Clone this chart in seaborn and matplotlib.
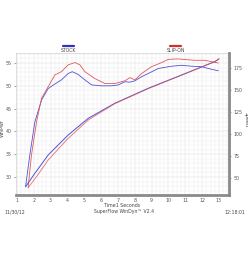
import pandas as pd
import seaborn as sns
import matplotlib.pyplot as plt
from matplotlib.lines import Line2D
from matplotlib.ticker import MultipleLocator

# Dyno run values
stock_t = [1.52, 1.77, 2.07, 2.47, 2.86, 3.26, 3.65, 4.05, 4.29, 4.64, 5.04, 5.44, 6.03, 6.63,
           7.02, 7.42, 7.71, 8.01, 8.41, 8.80, 9.40, 10.19, 10.79, 11.38, 11.97, 12.37, 12.96]
stock_hp = [27.9, 34.8, 42.1, 46.9, 49.4, 50.4, 51.3, 52.7, 53.1, 52.5, 51.3, 50.2, 50.0, 50.0,
            50.2, 50.9, 50.8, 51.1, 52.0, 52.7, 53.8, 54.3, 54.5, 54.3, 54.2, 53.8, 53.3]
slip_t = [1.67, 1.87, 2.17, 2.47, 2.86, 3.26, 3.65, 4.05, 4.45, 4.74, 5.04, 5.63, 6.23, 6.82,
          7.42, 7.71, 8.01, 8.41, 9.00, 9.60, 9.99, 10.58, 11.18, 11.58, 12.17, 12.96]
slip_hp = [27.7, 34.8, 42.1, 47.3, 49.8, 52.4, 53.1, 54.6, 55.1, 54.6, 53.1, 51.6, 50.5, 50.5,
           51.1, 51.8, 51.3, 52.7, 54.2, 55.1, 55.8, 55.9, 55.7, 55.6, 55.6, 55.0]

stock_spd_t = [1.52, 2.07, 2.86, 4.05, 5.24, 6.82, 8.80, 10.79, 12.77, 13.0]
stock_spd = [40.1, 55.3, 76.1, 98.9, 117.8, 134.9, 151.9, 167.0, 182.2, 185.2]
slip_spd_t = [1.67, 2.17, 2.86, 4.05, 5.24, 6.82, 8.80, 10.79, 12.77, 13.0]
slip_spd = [39.0, 51.5, 70.5, 95.1, 115.9, 134.5, 151.5, 167.0, 182.5, 185.5]

x_ticks = list(range(1, 14))
hp_ticks = [30, 35, 40, 45, 50, 55]
spd_ticks = [50, 75, 100, 125, 150, 175]

blue = '#5050d8'
red = '#e05858'
edge = '#8a8a8a'
txt = '#444444'

sns.set_style('white')
plt.rcParams['font.family'] = ['DejaVu Sans']

fig = plt.figure(figsize=(2.48, 2.58), dpi=100)
ax = fig.add_axes([0.0645, 0.2442, 0.859, 0.5504])
ax2 = ax.twinx()

df_stock = pd.DataFrame({'t': stock_t, 'hp': stock_hp})
df_slip = pd.DataFrame({'t': slip_t, 'hp': slip_hp})
sns.lineplot(x='t', y='hp', data=df_stock, ax=ax, color=blue, lw=0.6, sort=False)
sns.lineplot(x='t', y='hp', data=df_slip, ax=ax, color=red, lw=0.6, sort=False)

df_s1 = pd.DataFrame({'t': stock_spd_t, 'spd': stock_spd})
df_s2 = pd.DataFrame({'t': slip_spd_t, 'spd': slip_spd})
sns.lineplot(x='t', y='spd', data=df_s1, ax=ax2, color=blue, lw=0.7, sort=False)
sns.lineplot(x='t', y='spd', data=df_s2, ax=ax2, color=red, lw=0.7, alpha=0.75, sort=False)

ax.set_xlim(0.95, 13.6)
ax.set_ylim(26.05, 57.2)
ax2.set_ylim(30.7, 192)

ax.set_xticks(x_ticks)
ax.set_yticks(hp_ticks)
ax2.set_yticks(spd_ticks)
ax.xaxis.set_minor_locator(MultipleLocator(0.25))
ax.yaxis.set_minor_locator(MultipleLocator(1))
ax.grid(which='major', color='#dadada', lw=0.35)
ax.grid(which='minor', color='#ebebeb', lw=0.3)
ax.set_axisbelow(True)

ax.tick_params(axis='both', which='major', labelsize=3.4, length=1.2, width=0.4,
               colors='#555555', pad=1)
ax.tick_params(axis='both', which='minor', length=0)
ax.tick_params(axis='y', pad=2)
ax2.tick_params(axis='y', labelsize=3.4, length=1.2, width=0.4, colors='#555555', pad=2)

for s in ['left', 'top']:
    ax.spines[s].set_color('#cccccc')
    ax.spines[s].set_linewidth(0.4)
ax.spines['bottom'].set_color(edge)
ax.spines['bottom'].set_linewidth(2)
ax.spines['right'].set_visible(False)
for s in ['left', 'top', 'bottom']:
    ax2.spines[s].set_visible(False)
ax2.spines['right'].set_color(edge)
ax2.spines['right'].set_linewidth(2)

ax.set_xlabel('Time1 Seconds', fontsize=3.4, color=txt, va='center')
ax.xaxis.set_label_coords(0.5, -0.072)
ax.set_ylabel('WhlPwr', fontsize=3.4, color=txt, va='center')
ax.yaxis.set_label_coords(-0.066, 0.47)
ax2.set_ylabel('Speed', fontsize=3.4, color=txt, rotation=270, va='center')
ax2.yaxis.set_label_coords(1.082, 0.53)

# legend markers at the top
fig.add_artist(Line2D([63 / 248, 74 / 248], [1 - 46 / 258] * 2, color='#3030c8', lw=1.6))
fig.add_artist(Line2D([170 / 248, 181 / 248], [1 - 46 / 258] * 2, color='#d03030', lw=1.6))
fig.text(68.5 / 248, 1 - 50.5 / 258, 'STOCK', fontsize=3.3, ha='center', va='center', color=txt)
fig.text(175.5 / 248, 1 - 50.5 / 258, 'SLIP-ON', fontsize=3.3, ha='center', va='center', color=txt)

# footer
fig.text(4 / 248, 1 - 212 / 258, '11/30/12', fontsize=3.3, ha='left', va='center', color=txt)
fig.text(124 / 248, 1 - 212 / 258, 'SuperFlow WinDyn\u2122 V2.4', fontsize=3.3, ha='center',
         va='center', color=txt)
fig.text(245 / 248, 1 - 212 / 258, '12:18:01', fontsize=3.3, ha='right', va='center', color=txt)

fig.savefig('out.png', dpi=100)
